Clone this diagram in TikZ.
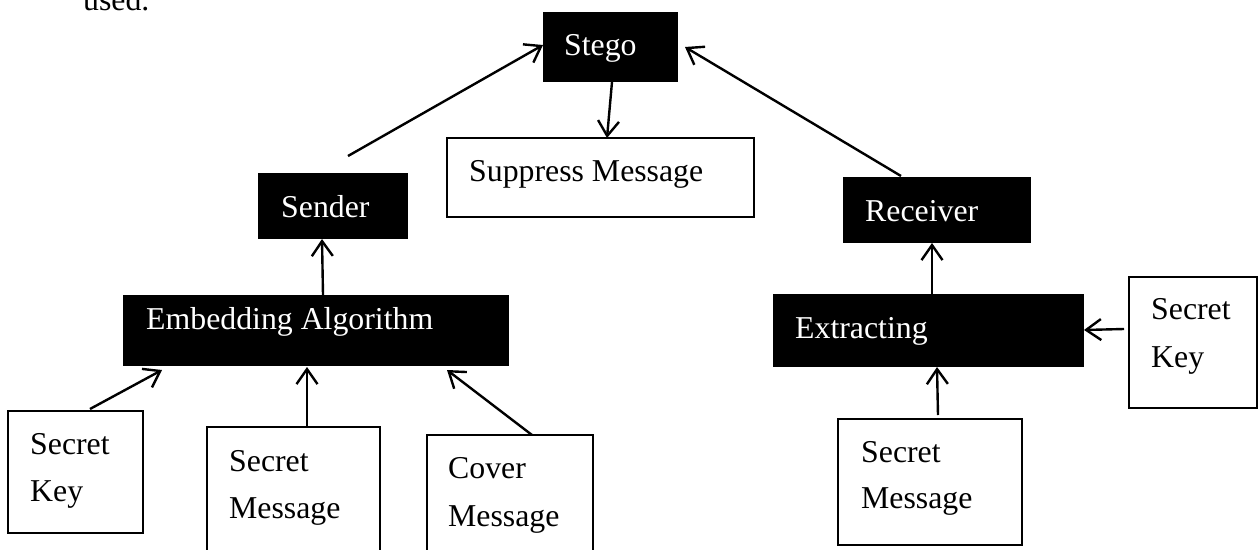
\documentclass[tikz,border=0pt]{standalone}
\usepackage{fontspec}
\setmainfont{Liberation Serif}
\usetikzlibrary{arrows.meta}
\begin{document}
\begin{tikzpicture}[x=1pt,y=-1pt,
  wbox/.style={draw=black, line width=2.2pt, fill=white, inner sep=0pt, outer sep=0pt, anchor=north west},
  bbox/.style={fill=black, draw=none, inner sep=0pt, outer sep=0pt, anchor=north west},
  lbl/.style={anchor=base west, inner sep=0pt, font=\fontsize{31.8}{38}\selectfont},
  wlbl/.style={lbl, text=white},
  arr/.style={line width=2.4pt, -{Straight Barb[length=15pt,width=21pt,line width=2.4pt]}}]
\useasboundingbox (0,0) rectangle (1258,549);
% boxes
\node[bbox, minimum width=135pt, minimum height=70pt] (stego) at (543,12) {};
\node[wbox, minimum width=307pt, minimum height=79pt] (supp) at (447,138) {};
\node[bbox, minimum width=150pt, minimum height=66pt] (sender) at (258,173) {};
\node[bbox, minimum width=188pt, minimum height=66pt] (recv) at (843,177) {};
\node[bbox, minimum width=386pt, minimum height=71pt] (emb) at (123,295) {};
\node[bbox, minimum width=311pt, minimum height=73pt] (extr) at (773,294) {};
\node[wbox, minimum width=135pt, minimum height=122pt] (skL) at (8,411) {};
\node[wbox, minimum width=173pt, minimum height=124pt] (smL) at (207,427) {};
\node[wbox, minimum width=166pt, minimum height=116pt] (cover) at (427,435) {};
\node[wbox, minimum width=128pt, minimum height=131pt] (skR) at (1129,277) {};
\node[wbox, minimum width=184pt, minimum height=126pt] (smR) at (838,419) {};
% texts
\node[lbl] (used) at (83,10) {used.};
\node[wlbl] (tstego) at (564,55) {Stego};
\node[lbl] (tsupp) at (469,181) {Suppress Message};
\node[wlbl] (tsender) at (281,217) {Sender};
\node[wlbl] (trecv) at (865,221) {Receiver};
\node[wlbl] (temb) at (146,329) {Embedding Algorithm};
\node[wlbl] (textr) at (795,338) {Extracting};
\node[lbl] (tskLa) at (30,454) {Secret};
\node[lbl] (tskLb) at (30,501) {Key};
\node[lbl] (tsmLa) at (229,471) {Secret};
\node[lbl] (tsmLb) at (229,518) {Message};
\node[lbl] (tcova) at (448,478) {Cover};
\node[lbl] (tcovb) at (448,526) {Message};
\node[lbl] (tskRa) at (1151,319) {Secret};
\node[lbl] (tskRb) at (1151,367) {Key};
\node[lbl] (tsmRa) at (861,462) {Secret};
\node[lbl] (tsmRb) at (861,508) {Message};
% connectors
\draw[arr] ([xshift=90pt,yshift=17pt]sender.north west) -- ([yshift=2pt]stego.west);
\draw[arr] ([xshift=58pt,yshift=1pt]recv.north west) -- ([xshift=7pt]stego.east);
\draw[arr] ([xshift=69pt]stego.south west) -- ([xshift=160pt]supp.north west);
\draw[arr] ([xshift=200pt]emb.north west) -- ([xshift=64pt]sender.south west);
\draw[arr] ([xshift=82pt,yshift=2pt]skL.north west) -- ([xshift=39pt,yshift=-4pt]emb.south west);
\draw[arr] ([xshift=100pt]smL.north west) -- ([xshift=184pt,yshift=-1pt]emb.south west);
\draw[arr] ([xshift=105pt]cover.north west) -- ([xshift=324pt,yshift=-4pt]emb.south west);
\draw[arr] ([xshift=159pt]extr.north west) -- ([xshift=89pt]recv.south west);
\draw[arr] ([xshift=-5pt,yshift=-52pt]skR.north west) -- ([yshift=-36pt]extr.north east);
\draw[arr] ([xshift=100pt,yshift=4pt]smR.north west) -- ([xshift=164pt]extr.south west);
\end{tikzpicture}
\end{document}
